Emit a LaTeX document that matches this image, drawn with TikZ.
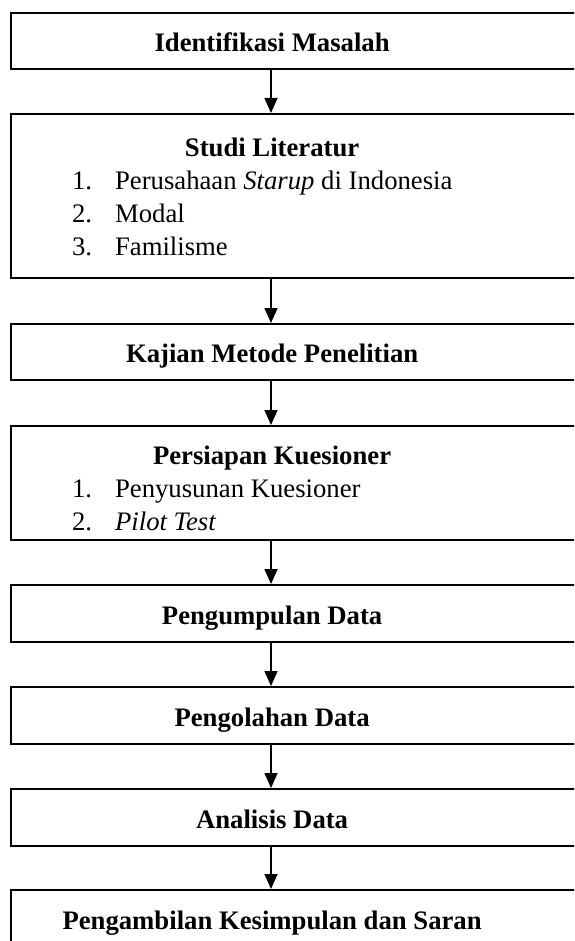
\documentclass[tikz,border=0pt]{standalone}
\usepackage{fontspec}
\setmainfont{Liberation Serif}
\usetikzlibrary{arrows.meta}

\newcommand{\stepbody}[1]{\parbox[t]{640pt}{#1}}
\newcommand{\steptitle}[1]{\makebox[522pt]{\bfseries #1}}
\newcommand{\stepitem}[2]{\hspace*{61pt}\makebox[43pt][l]{#1}#2}

\begin{document}
\begin{tikzpicture}[x=1pt, y=-1pt,
    stepbox/.style={draw, line width=2.2pt, anchor=north west, inner sep=0pt, minimum height=57pt, text height=22pt, text depth=1pt, font=\fontsize{26.7}{33.3}\selectfont},
    arr/.style={-{Triangle[length=15pt, width=13pt]}, line width=1.6pt}
]
\useasboundingbox (0,0) rectangle (574,941);
\clip (0,0) rectangle (574,941);
\coordinate (axis) at (271,0);

\node[stepbox, minimum height=56pt] (ident) at (10,12) {\stepbody{\steptitle{Identifikasi Masalah}}};
\node[stepbox, minimum height=164pt, text height=20pt, text depth=100pt] (studi) at (10,113) {\stepbody{\steptitle{Studi Literatur}\\
    \stepitem{1.}{Perusahaan \textit{Starup} di Indonesia}\\
    \stepitem{2.}{Modal}\\
    \stepitem{3.}{Familisme}}};
\node[stepbox, minimum height=56pt] (kajian) at (10,323) {\stepbody{\steptitle{Kajian Metode Penelitian}}};
\node[stepbox, minimum height=114pt, text height=20pt, text depth=58pt] (kuesioner) at (10,425) {\stepbody{\steptitle{Persiapan Kuesioner}\\
    \stepitem{1.}{Penyusunan Kuesioner}\\
    \stepitem{2.}{\textit{Pilot Test}}}};
\node[stepbox] (kumpul) at (10,584) {\stepbody{\steptitle{Pengumpulan Data}}};
\node[stepbox] (olah) at (10,686) {\stepbody{\steptitle{Pengolahan Data}}};
\node[stepbox] (analisis) at (10,788) {\stepbody{\steptitle{Analisis Data}}};
\node[stepbox] (simpulan) at (10,889) {\stepbody{\steptitle{Pengambilan Kesimpulan dan Saran}}};

\foreach \a/\b in {ident/studi, studi/kajian, kajian/kuesioner, kuesioner/kumpul, kumpul/olah, olah/analisis, analisis/simpulan}
    \draw[arr] (\a.south -| axis) -- (\b.north -| axis);
\end{tikzpicture}
\end{document}
